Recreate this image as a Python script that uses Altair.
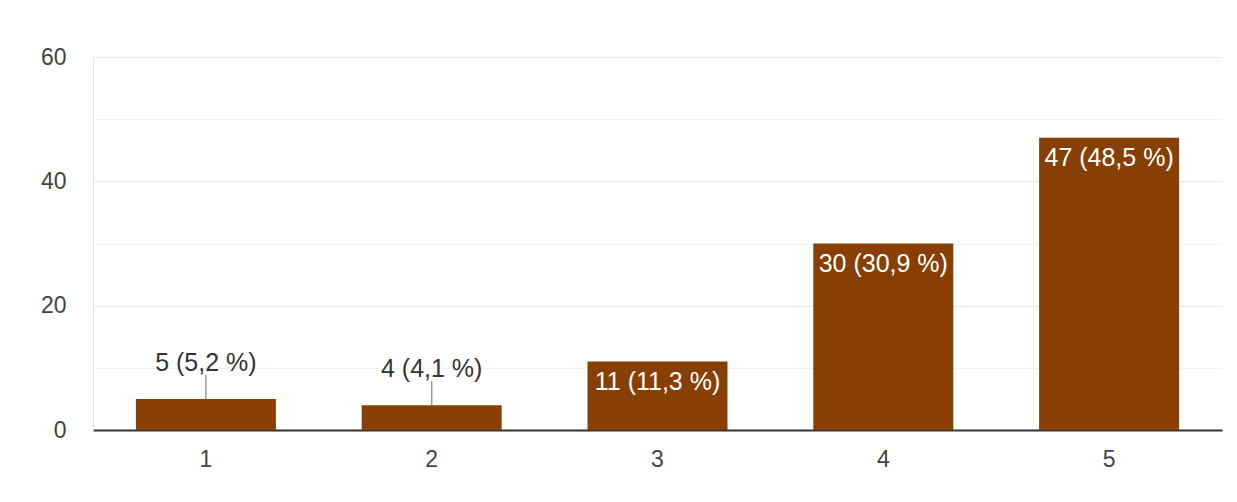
import altair as alt
import pandas as pd

categories = ["1", "2", "3", "4", "5"]
counts = [5, 4, 11, 30, 47]
labels = ["5 (5,2 %)", "4 (4,1 %)", "11 (11,3 %)", "30 (30,9 %)", "47 (48,5 %)"]

df = pd.DataFrame({"cat": categories, "count": counts, "label": labels})

FONT = "Liberation Sans"
BROWN = "#883F03"

x = alt.X("cat:N", sort=categories, title=None,
          scale=alt.Scale(paddingInner=0.38, paddingOuter=0.19),
          axis=alt.Axis(labelAngle=0, labelFontSize=23, labelColor="#444",
                        labelFont=FONT, ticks=False, labelPadding=18,
                        domainColor="#333", domainWidth=2, grid=False))
y = alt.Y("count:Q", title=None,
          scale=alt.Scale(domain=[0, 60], nice=False),
          axis=alt.Axis(values=[0, 10, 20, 30, 40, 50, 60],
                        labelExpr="datum.value % 20 == 0 ? datum.label : ''",
                        labelFontSize=23, labelColor="#444", labelFont=FONT,
                        ticks=False, labelPadding=27, domainColor="#e4e4e4",
                        gridColor={"condition": {"test": "datum.value % 20 == 0", "value": "#e8e8e8"},
                                   "value": "#f3f3f3"},
                        minExtent=60, maxExtent=60))

base = alt.Chart(df)

bars = base.mark_bar(color=BROWN).encode(x=x, y=y)

inside = base.transform_filter("datum.count >= 10").mark_text(
    baseline="top", dy=8, fontSize=25, font=FONT, color="white"
).encode(x=x, y=y, text="label:N")

leader = base.transform_filter("datum.count < 10").mark_rule(
    color="#999", strokeWidth=1.5, y2Offset=-24
).encode(x=x, y=y, y2="count:Q")

outside = base.transform_filter("datum.count < 10").mark_text(
    baseline="bottom", dy=-23, fontSize=25, font=FONT, color="#333"
).encode(x=x, y=y, text="label:N")

chart = (bars + leader + inside + outside).properties(
    width=1129, height=373, background="white",
    padding={"left": 25, "top": 38, "right": 7, "bottom": 5}
).configure_view(stroke=None)

chart.save("out.html", embed_options={"renderer": "svg", "actions": False})
